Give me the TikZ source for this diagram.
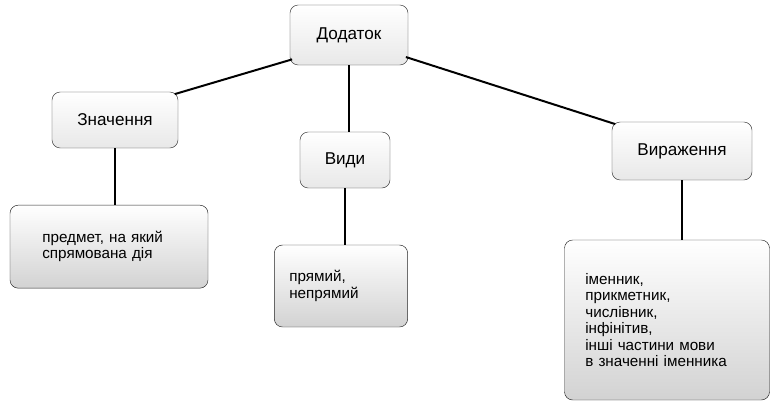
\documentclass[tikz,border=0pt]{standalone}
\usepackage{fontspec}
\setmainfont{Liberation Sans}
\usetikzlibrary{positioning}
\tikzset{
  head/.style={draw=black!80, thin, rounded corners=7pt, top color=white, bottom color=gray!18,
    font=\fontsize{14.6}{16}\selectfont, inner sep=4pt},
  leaf/.style={draw=black!85, thin, rounded corners=7pt, top color=white, bottom color=gray!35,
    font=\fontsize{13}{14}\selectfont, align=left, inner sep=4pt},
  link/.style={line width=1.7pt, black}
}
\begin{document}
\begin{tikzpicture}
  \useasboundingbox (0,0) rectangle (23.16,-12.12);
  %top box
  \node[head, minimum width=3.54cm, minimum height=1.8cm] (dod) at (10.47,-1.05) {Додаток};
  %second row
  \node[head, minimum width=3.78cm, minimum height=1.68cm] (zn) at (3.45,-3.6) {Значення};
  \node[head, minimum width=2.7cm, minimum height=1.68cm] (vyd) at (10.35,-4.8) {Види};
  \node[head, minimum width=4.2cm, minimum height=1.74cm] (vyr) at (20.46,-4.53) {Вираження};
  %bottom boxes
  \node[leaf, minimum width=5.94cm, minimum height=2.49cm, text width=4.0cm] (pred) at (3.27,-7.4)
    {предмет, на який\\спрямована дія};
  \node[leaf, minimum width=4.0cm, minimum height=2.46cm, text width=3.1cm] (pr) at (10.23,-8.58)
    {прямий,\\непрямий};
  \node[leaf, minimum width=6.15cm, minimum height=4.8cm, text width=4.9cm] (im) at (20.01,-9.6)
    {іменник,\\прикметник,\\числівник,\\інфінітив,\\інші частини мови\\в значенні іменника\\[4pt]};
  %links
  \draw[link] ([xshift=2pt,yshift=5pt]dod.south west) -- ([xshift=-3pt,yshift=-2pt]zn.north east);
  \draw[link] ([xshift=-2pt,yshift=7pt]dod.south east) -- ([xshift=3pt,yshift=-2pt]vyr.north west);
  \draw[link] (dod.south) -- (dod.south |- vyd.north);
  \draw[link] (zn.south) -- (zn.south |- pred.north);
  \draw[link] (vyd.south) -- (vyd.south |- pr.north);
  \draw[link] (vyr.south) -- (vyr.south |- im.north);
\end{tikzpicture}
\end{document}
